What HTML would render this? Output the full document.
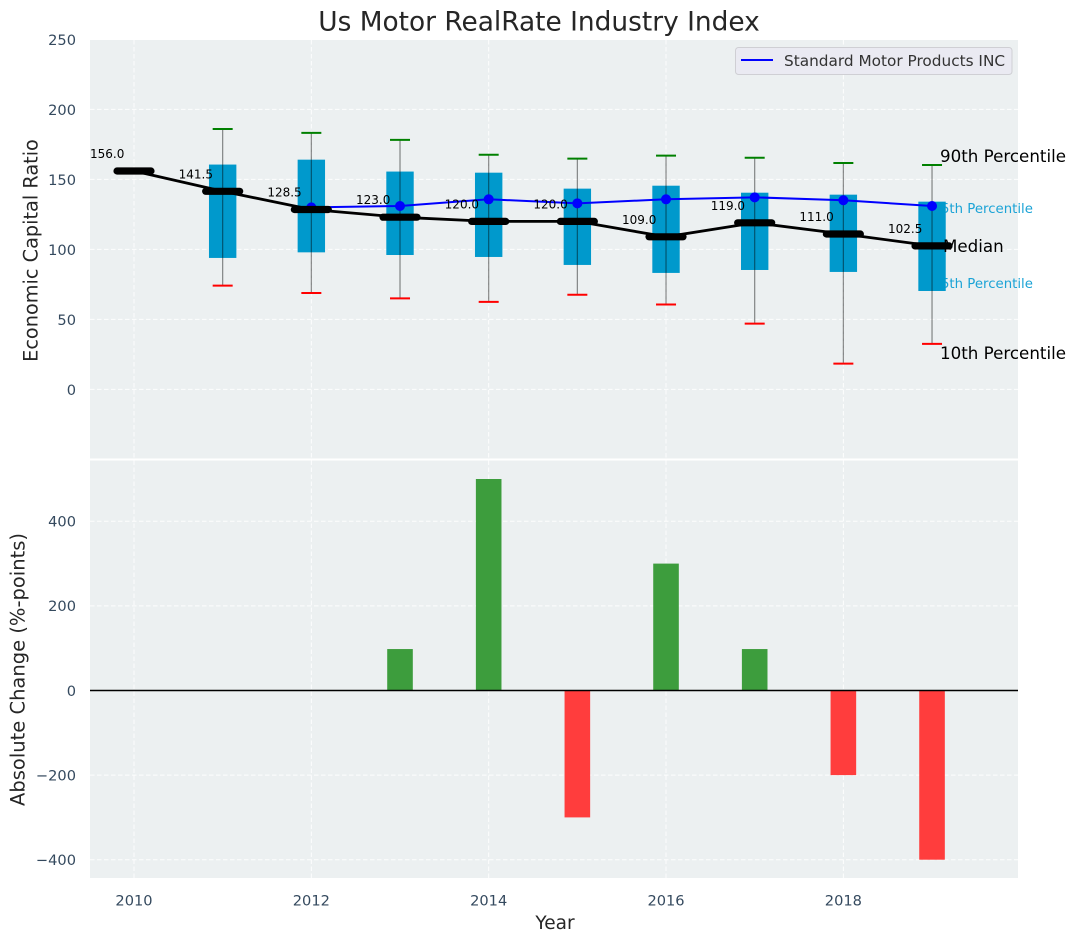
<!DOCTYPE html>
<html>
<head>
<meta charset="utf-8">
<title>Us Motor RealRate Industry Index</title>
<style>
html,body{margin:0;padding:0;background:#fff;width:1075px;height:942px;overflow:hidden}
svg{display:block;font-family:"DejaVu Sans","Liberation Sans",sans-serif}
</style>
</head>
<body>
<svg id="chart" xmlns="http://www.w3.org/2000/svg" width="1075" height="942" viewBox="0 0 1075 942">
  <text x="539" y="30.5" font-size="26.4" fill="#262626" text-anchor="middle">Us Motor RealRate Industry Index</text>
  <rect x="90" y="40" width="928" height="418.5" fill="#ecf0f1"/>
  <rect x="90" y="460.5" width="928" height="417.5" fill="#ecf0f1"/>
  <g id="grid"></g>
  <g id="bars"></g>
  <line x1="90" x2="1018" y1="690.5" y2="690.5" stroke="#000" stroke-width="1.4"/>
  <g id="annot-under"></g>
  <g id="boxes"></g>
  <g id="whiskers"></g>
  <g id="company"></g>
  <g id="median"></g>
  <g id="ticks"></g>
  <text transform="translate(37.5,250.5) rotate(-90)" font-size="19.3" fill="#262626" text-anchor="middle">Economic Capital Ratio</text>
  <text transform="translate(24.5,669.5) rotate(-90)" font-size="19.5" fill="#262626" text-anchor="middle">Absolute Change (%-points)</text>
  <text x="555" y="929" font-size="18.5" fill="#262626" text-anchor="middle">Year</text>
  <g>
    <rect x="735.5" y="47.5" width="276.5" height="27" rx="3" fill="#eaeaf2" stroke="#cfcfd4" stroke-width="1"/>
    <line x1="741" x2="773" y1="60" y2="60" stroke="#0000ff" stroke-width="2"/>
    <text x="784" y="66" font-size="15.3" fill="#333">Standard Motor Products INC</text>
  </g>
  <text x="940" y="162" font-size="16.7" fill="#000">90th Percentile</text>
  <text x="943" y="252" font-size="16.7" fill="#000">Median</text>
  <text x="940" y="359" font-size="16.7" fill="#000">10th Percentile</text>
</svg>
<script>
const years = [2010, 2011, 2012, 2013, 2014, 2015, 2016, 2017, 2018, 2019];
const medianValues = [156, 141.5, 128.5, 123, 120, 120, 109, 119, 111, 102.5];
const companyValues = [null, null, 130, 131, 135.8, 132.9, 135.8, 137.2, 135.1, 131];
const p90Values = [null, 186, 183.2, 178.2, 167.6, 164.8, 167, 165.5, 161.7, 160.3];
const p75Values = [null, 160.6, 164.1, 155.6, 154.8, 143.4, 145.5, 140.5, 139.1, 134.1];
const p25Values = [null, 93.9, 97.9, 96, 94.6, 88.9, 83.2, 85.3, 83.9, 70.3];
const p10Values = [null, 74.1, 68.9, 65, 62.5, 67.6, 60.6, 47, 18.4, 32.5];
const changeValues = [null, null, null, 98, 500, -300, 300, 98, -200, -400];
const xTicks = [2010, 2012, 2014, 2016, 2018];
const topYTicks = [0, 50, 100, 150, 200, 250];
const bottomYTicks = [-400, -200, 0, 200, 400];

const NS = 'http://www.w3.org/2000/svg';
function xScale(v) { return 134 + (v - 2010) * 88.67; }
function topY(v) { return 389.4 - v * 1.4; }
function bottomY(v) { return 690.5 - v * 0.423; }
function make(tag, attrs, parent) {
  const el = document.createElementNS(NS, tag);
  for (const k in attrs) el.setAttribute(k, attrs[k]);
  parent.appendChild(el);
  return el;
}
const $ = id => document.getElementById(id);
const gridG = $('grid'), tickG = $('ticks'), barG = $('bars'), boxG = $('boxes'),
      whiskG = $('whiskers'), compG = $('company'), medG = $('median'), underG = $('annot-under');
const dash = { stroke: '#fff', 'stroke-width': 1, 'stroke-dasharray': '4.5 2.5', opacity: 0.9 };

xTicks.forEach(t => {
  const x = xScale(t);
  const a = make('line', Object.assign({ x1: x, x2: x, y1: 40, y2: 458.5 }, dash), gridG);
  
  
  const b = make('line', Object.assign({ x1: x, x2: x, y1: 460.5, y2: 878 }, dash), gridG);
  
  
  const l = make('text', { x: x, y: 905.3, 'font-size': 14.6, fill: '#34495e', 'text-anchor': 'middle' }, tickG);
  l.textContent = t;
  
  
});
topYTicks.forEach(t => {
  const y = topY(t);
  if (t < 250) {
    const g = make('line', Object.assign({ x1: 90, x2: 1018, y1: y, y2: y }, dash), gridG);
    
    
  }
  const l = make('text', { x: 76, y: y + 5.6, 'font-size': 14.6, fill: '#34495e', 'text-anchor': 'end' }, tickG);
  l.textContent = t;
  
  
});
bottomYTicks.forEach(t => {
  const y = bottomY(t);
  const g = make('line', Object.assign({ x1: 90, x2: 1018, y1: y, y2: y }, dash), gridG);
  
  
  const l = make('text', { x: 76, y: y + 5.3, 'font-size': 14.6, fill: '#34495e', 'text-anchor': 'end' }, tickG);
  l.textContent = String(t).replace('-', '\u2212');
  
  
});

years.forEach((yr, i) => {
  const x = xScale(yr);
  const c = changeValues[i];
  if (c !== null) {
    const r = make('rect', {
      x: x - 12.8, width: 25.6,
      y: Math.min(bottomY(0), bottomY(c)),
      height: Math.abs(bottomY(c) - bottomY(0)),
      fill: c >= 0 ? '#3d9d3d' : '#ff3d3d'
    }, barG);
    
    
  }
  if (p75Values[i] !== null) {
    const b = make('rect', {
      x: x - 13.7, width: 27.4,
      y: topY(p75Values[i]),
      height: topY(p25Values[i]) - topY(p75Values[i]),
      fill: '#0099cc'
    }, boxG);
    
    
    const w = make('line', { x1: x, x2: x, y1: topY(p90Values[i]), y2: topY(p10Values[i]), stroke: '#000', 'stroke-opacity': 0.45, 'stroke-width': 1.2 }, whiskG);
    
    
    const hi = make('line', { x1: x - 10, x2: x + 10, y1: topY(p90Values[i]), y2: topY(p90Values[i]), stroke: '#008000', 'stroke-width': 2 }, whiskG);
    
    
    const lo = make('line', { x1: x - 10, x2: x + 10, y1: topY(p10Values[i]), y2: topY(p10Values[i]), stroke: '#ff0000', 'stroke-width': 2 }, whiskG);
    
    
  }
});

const companyPts = years.map((yr, i) => companyValues[i] === null ? null : xScale(yr) + ',' + topY(companyValues[i])).filter(Boolean).join(' ');
const companyLine = make('polyline', { points: companyPts, fill: 'none', stroke: '#0000ff', 'stroke-width': 2 }, compG);


years.forEach((yr, i) => {
  if (companyValues[i] === null) return;
  const d = make('circle', { cx: xScale(yr), cy: topY(companyValues[i]), r: 5, fill: '#0000ff' }, compG);
  
  
});

const medianPts = years.map((yr, i) => xScale(yr) + ',' + topY(medianValues[i])).join(' ');
const medianLine = make('polyline', { points: medianPts, fill: 'none', stroke: '#000', 'stroke-width': 2.8 }, medG);


years.forEach((yr, i) => {
  const x = xScale(yr), y = topY(medianValues[i]);
  const m = make('line', { x1: x - 17, x2: x + 17, y1: y, y2: y, stroke: '#000', 'stroke-width': 7.2, 'stroke-linecap': 'round' }, medG);
  
  
  const t = make('text', { x: x - 44, y: y - 13, 'font-size': 12, fill: '#000' }, medG);
  t.textContent = medianValues[i].toFixed(1);
  
  
});

const last = years.length - 1;
const l75 = make('text', { x: xScale(years[last]) + 0.5, y: topY(126), 'font-size': 13.3, fill: '#1ba3d6' }, underG);
l75.textContent = '75th Percentile';


const l25 = make('text', { x: xScale(years[last]) + 0.5, y: topY(72.5), 'font-size': 13.3, fill: '#1ba3d6' }, underG);
l25.textContent = '25th Percentile';


</script>
</body>
</html>
